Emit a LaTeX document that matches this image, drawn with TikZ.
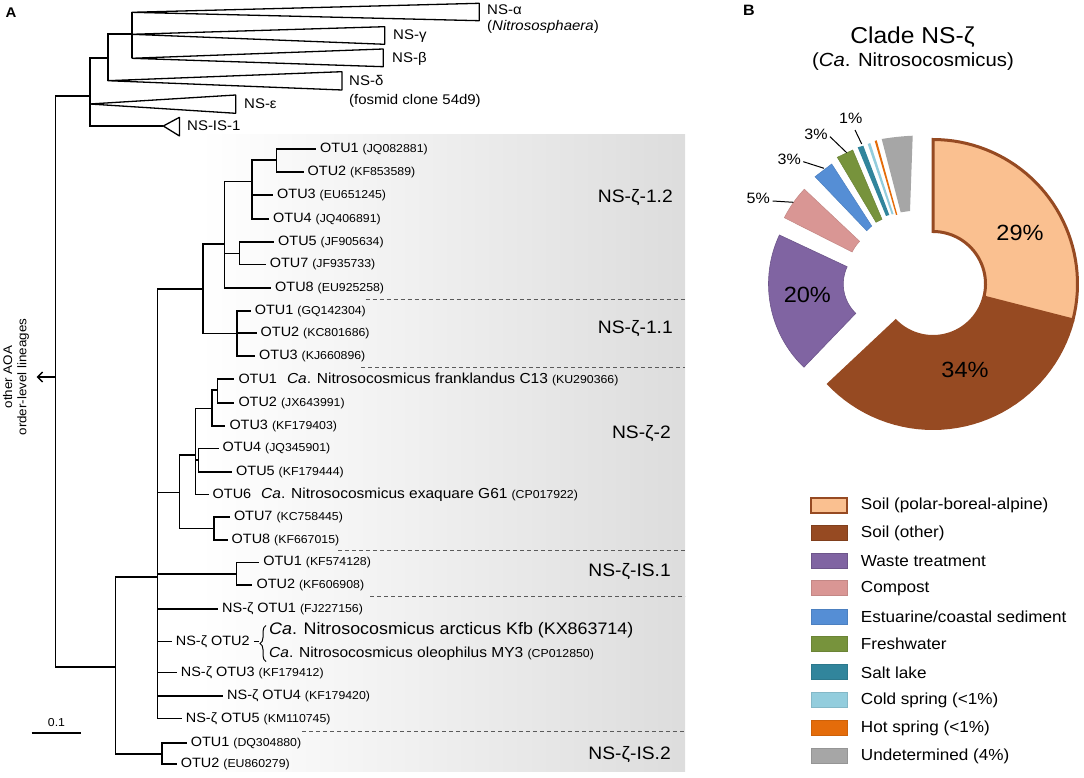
\documentclass[tikz,border=0pt]{standalone}
\usepackage{fontspec}
\setmainfont{Liberation Sans}[FakeStretch=1.07]
\usetikzlibrary{arrows.meta,decorations.pathreplacing}
\newcommand{\fsz}[1]{\fontsize{#1}{#1}\selectfont}
\newcommand{\acc}[1]{{\fsz{11.5}(#1)}}
\newcommand{\spc}[1]{{\fsz{14.5}#1}}
\newcommand{\ringslice}[7]{\path[#7] plot[domain=#5:#6,samples=40] ({#1+#4*cos(\x)},{#2-#4*sin(\x)}) -- plot[domain=#6:#5,samples=40] ({#1+#3*cos(\x)},{#2-#3*sin(\x)}) -- cycle;}
\definecolor{peach}{RGB}{250,192,144}
\definecolor{soilbr}{RGB}{150,74,34}
\definecolor{purp}{RGB}{128,100,162}
\definecolor{pinkc}{RGB}{217,150,148}
\definecolor{bluec}{RGB}{85,142,213}
\definecolor{greenc}{RGB}{119,147,60}
\definecolor{tealc}{RGB}{49,133,156}
\definecolor{ltblue}{RGB}{147,205,221}
\definecolor{orangec}{RGB}{228,108,10}
\definecolor{grayc}{RGB}{166,166,166}
\definecolor{dashc}{RGB}{90,90,90}
\begin{document}
\begin{tikzpicture}[x=1pt,y=-1pt,
  br/.style={line width=1.6pt},
  wedge/.style={line width=1.3pt, line join=bevel},
  lbl/.style={anchor=west, inner sep=0pt, xshift=4pt, font=\fsz{13.5}},
  tl/.style={anchor=west, inner sep=0pt, font=\fsz{14}},
  cl/.style={anchor=east, inner sep=0pt, font=\fsz{18}},
  sep/.style={dashc, line width=1pt, dash pattern=on 4pt off 3pt},
  pct/.style={inner sep=0pt, font=\fsz{22}},
  spct/.style={inner sep=0pt, font=\fsz{15}},
  lead/.style={line width=1pt},
  sw/.style={minimum width=36pt, minimum height=15pt, inner sep=0pt, line width=0.8pt},
  lg/.style={anchor=west, inner sep=0pt, font=\fsz{16}}]
\useasboundingbox (0,0) rectangle (1084,778);
% background panel
\shade[left color=white, right color=gray!27] (200,135) rectangle (685,771);
% panel labels
\node[font=\bfseries\fsz{14}, inner sep=0pt] (A) at (11,13) {A};
\node[font=\bfseries\fsz{15}, inner sep=0pt] (B) at (749,10.5) {B};
% ---------- top of tree ----------
\coordinate (root) at (55.6,377);
\coordinate (n1) at (89.7,96);
\coordinate (n2) at (107.7,58.3);
\coordinate (n3) at (131.7,34.3);
\coordinate (P) at (115.5,667);
\draw[br] (root) |- (n1);
\draw[br] (root) |- (P);
\draw[br] (n1) |- (n2);
\draw[br] (n2) |- (n3);
\coordinate (wa) at (131.7,12.3);
\coordinate (wg) at (131.7,34.3);
\coordinate (wb) at (131.7,58.3);
\coordinate (wd) at (107.7,80.7);
\coordinate (we) at (89.7,104);
\coordinate (wi) at (163.3,126);
\draw[br] (n3) |- (wa);
\draw[br] (n3) |- (wb);
\draw[br] (n2) |- (wd);
\draw[br] (n1) |- (we);
\draw[br] (n1) |- (wi);
\draw[wedge] (wa) -- (479.2,3.3) -- (479.2,20.7) -- cycle;
\draw[wedge] (wg) -- (384.8,26.7) -- (384.8,44.3) -- cycle;
\draw[wedge] (wb) -- (383.3,49) -- (383.3,66.7) -- cycle;
\draw[wedge] (wd) -- (342,71.7) -- (342,90) -- cycle;
\draw[wedge] (we) -- (235.8,95) -- (235.8,113.3) -- cycle;
\draw[wedge] (wi) -- (179.5,117.3) -- (179.5,136) -- cycle;
\node[tl] (la) at (487,10) {NS-α};
\node[tl] (la2) at (487,26.5) {(\textit{Nitrososphaera})};
\node[tl] (lgm) at (393,36) {NS-γ};
\node[tl] (lbt) at (392,59) {NS-β};
\node[tl] (ldl) at (349,80.5) {NS-δ};
\node[tl] (ldl2) at (349,100.5) {(fosmid clone 54d9)};
\node[tl] (lep) at (244,104) {NS-ε};
\node[tl] (lis) at (187,126) {NS-IS-1};
% arrow to other lineages
\coordinate (arr) at (36.7,377);
\draw[line width=1.3pt, -{Straight Barb[length=5pt,width=10pt]}] (root) -- (arr);
\node[rotate=90, align=center, inner sep=0pt, font=\fontsize{12.5}{14.3}\selectfont] (aoa) at (16,377) {other AOA\\order-level lineages};
% scale bar
\coordinate (sb1) at (31.7,732.7);
\coordinate (sb2) at (81,732.7);
\draw[line width=1.6pt] (sb1) -- (sb2);
\node[inner sep=0pt, font=\fsz{11.5}] (sbl) at (56.5,722.5) {0.1};
% ---------- NS-zeta clade ----------
\coordinate (N) at (157.5,577);
\coordinate (Q) at (161.7,754);
\draw[br] (P) |- (N);
\draw[br] (P) |- (Q);
\coordinate (c1) at (203,289);
\coordinate (c2) at (179.6,492.3);
\coordinate (is1) at (236.5,574);
\draw[br] (N) |- (c1);
\draw[br] (N) |- (c2);
\draw[br] (N) |- (is1);
% 1.x
\coordinate (c12) at (224.5,244);
\coordinate (c11) at (237,333.3);
\draw[br] (c1) |- (c12);
\draw[br] (c1) |- (c11);
\coordinate (a) at (252,181.7);
\coordinate (b) at (239.4,253.3);
\coordinate (o8) at (271,287.7);
\draw[br] (c12) |- (a);
\draw[br] (c12) |- (b);
\draw[br] (c12) |- (o8);
\coordinate (aa) at (276.4,160);
\coordinate (o3) at (273,195);
\coordinate (o4) at (269,219);
\draw[br] (a) |- (aa);
\draw[br] (a) |- (o3);
\draw[br] (a) |- (o4);
\coordinate (o1) at (316,149.3);
\coordinate (o2) at (303.5,172.3);
\draw[br] (aa) |- (o1);
\draw[br] (aa) |- (o2);
\coordinate (o5) at (274,241.7);
\coordinate (o7) at (265.6,264.3);
\draw[br] (b) |- (o5);
\draw[br] (b) |- (o7);
\coordinate (p1) at (250.7,311);
\coordinate (p2) at (256.5,332.7);
\coordinate (p3) at (255,356);
\draw[br] (c11) |- (p1);
\draw[br] (c11) |- (p2);
\draw[br] (c11) |- (p3);
\node[lbl] (to1) at (o1) {OTU1 \acc{JQ082881}};
\node[lbl] (to2) at (o2) {OTU2 \acc{KF853589}};
\node[lbl] (to3) at (o3) {OTU3 \acc{EU651245}};
\node[lbl] (to4) at (o4) {OTU4 \acc{JQ406891}};
\node[lbl] (to5) at (o5) {OTU5 \acc{JF905634}};
\node[lbl] (to7) at (o7) {OTU7 \acc{JF935733}};
\node[lbl] (to8) at (o8) {OTU8 \acc{EU925258}};
\node[lbl] (tp1) at (p1) {OTU1 \acc{GQ142304}};
\node[lbl] (tp2) at (p2) {OTU2 \acc{KC801686}};
\node[lbl] (tp3) at (p3) {OTU3 \acc{KJ660896}};
% 2
\coordinate (d) at (195.5,455);
\coordinate (e) at (214,528.3);
\draw[br] (c2) |- (d);
\draw[br] (c2) |- (e);
\coordinate (f) at (211.7,408.3);
\coordinate (g) at (198.3,460);
\coordinate (q6) at (208.5,494.3);
\draw[br] (d) |- (f);
\draw[br] (d) |- (g);
\draw[br] (d) |- (q6);
\coordinate (h) at (217.6,390);
\coordinate (q3) at (225.3,425.7);
\draw[br] (f) |- (h);
\draw[br] (f) |- (q3);
\coordinate (q1) at (234.3,379);
\coordinate (q2) at (234.3,402.7);
\draw[br] (h) |- (q1);
\draw[br] (h) |- (q2);
\coordinate (q4) at (218.5,448.3);
\coordinate (q5) at (232,471.7);
\draw[br] (g) |- (q4);
\draw[br] (g) |- (q5);
\coordinate (q7) at (229.8,516.7);
\coordinate (q8) at (227.5,540);
\draw[br] (e) |- (q7);
\draw[br] (e) |- (q8);
\node[lbl] (tq1) at (q1) {OTU1\hspace{6pt} \spc{\textit{Ca}. Nitrosocosmicus franklandus C13} \acc{KU290366}};
\node[lbl] (tq2) at (q2) {OTU2 \acc{JX643991}};
\node[lbl] (tq3) at (q3) {OTU3 \acc{KF179403}};
\node[lbl] (tq4) at (q4) {OTU4 \acc{JQ345901}};
\node[lbl] (tq5) at (q5) {OTU5 \acc{KF179444}};
\node[lbl] (tq6) at (q6) {OTU6\hspace{6pt} \spc{\textit{Ca}. Nitrosocosmicus exaquare G61} \acc{CP017922}};
\node[lbl] (tq7) at (q7) {OTU7 \acc{KC758445}};
\node[lbl] (tq8) at (q8) {OTU8 \acc{KF667015}};
% IS.1
\coordinate (s1) at (259.2,562.3);
\coordinate (s2) at (252.4,585);
\draw[br] (is1) |- (s1);
\draw[br] (is1) |- (s2);
\node[lbl] (ts1) at (s1) {OTU1 \acc{KF574128}};
\node[lbl] (ts2) at (s2) {OTU2 \acc{KF606908}};
% NS-zeta OTUs
\coordinate (z1) at (218,609);
\coordinate (z2) at (171.7,641.5);
\coordinate (z3) at (176.7,672.5);
\coordinate (z4) at (223,696);
\coordinate (z5) at (181.7,718.5);
\draw[br] (N) |- (z1);
\draw[br] (N) |- (z2);
\draw[br] (N) |- (z3);
\draw[br] (N) |- (z4);
\draw[br] (N) |- (z5);
\node[lbl] (tz1) at (z1) {NS-ζ OTU1 \acc{FJ227156}};
\node[lbl] (tz2) at (z2) {NS-ζ OTU2};
\node[lbl] (tz3) at (z3) {NS-ζ OTU3 \acc{KF179412}};
\node[lbl] (tz4) at (z4) {NS-ζ OTU4 \acc{KF179420}};
\node[lbl] (tz5) at (z5) {NS-ζ OTU5 \acc{KM110745}};
\coordinate (bt) at (259,641.5);
\draw[line width=1pt] ([xshift=4pt]tz2.east) -- (bt);
\draw[line width=1pt, decorate, decoration={brace, amplitude=6pt}] (266,661.5) -- (266,625.5);
\node[anchor=west, inner sep=0pt, font=\fsz{16.7}] (arct) at (269,630) {\textit{Ca}. Nitrosocosmicus arcticus Kfb (KX863714)};
\node[anchor=west, inner sep=0pt, font=\fsz{14.5}] (oleo) at (269,654) {\textit{Ca}. Nitrosocosmicus oleophilus MY3 \acc{CP012850}};
% IS.2
\coordinate (t1) at (186.7,742.7);
\coordinate (t2) at (176.7,764);
\draw[br] (Q) |- (t1);
\draw[br] (Q) |- (t2);
\node[lbl] (tt1) at (t1) {OTU1 \acc{DQ304880}};
\node[lbl] (tt2) at (t2) {OTU2 \acc{EU860279}};
% separators
\draw[sep] (365.5,299.3) -- (685,299.3);
\draw[sep] (361,367) -- (685,367);
\draw[sep] (338.3,550) -- (685,550);
\draw[sep] (370,596) -- (685,596);
\draw[sep] (302,731.7) -- (685,731.7);
% clade labels
\node[cl] (k12) at (673,197.7) {NS-ζ-1.2};
\node[cl] (k11) at (673,328.3) {NS-ζ-1.1};
\node[cl] (k2) at (671,434) {NS-ζ-2};
\node[cl] (ki1) at (671,571.7) {NS-ζ-IS.1};
\node[cl] (ki2) at (671,755) {NS-ζ-IS.2};
% ---------- pie ----------
\node[inner sep=0pt, font=\fsz{23}] (pt1) at (912.5,37) {Clade NS-ζ};
\node[inner sep=0pt, font=\fsz{19}] (pt2) at (913,62) {(\textit{Ca}. Nitrosocosmicus)};
\ringslice{933}{284}{51}{146}{-136.8}{-14.4}{fill=soilbr}
\ringslice{933}{284}{52.5}{144.5}{-14.4}{90}{fill=peach, draw=soilbr, line width=3pt, line join=miter}
\ringslice{884}{284}{40.7}{115.5}{154.9}{226.1}{fill=purp, draw=purp!85!black, line width=0.6pt}
\ringslice{892.6}{272.4}{45.3}{121.3}{136.7}{153.2}{fill=pinkc, draw=pinkc!90!black, line width=0.5pt}
\fill[bluec, draw=bluec!90!black, line width=0.5pt] (815,176.7) -- (831.7,164) -- (871.7,226) -- (866.7,230.7) -- cycle;
\fill[greenc, draw=greenc!90!black, line width=0.5pt] (837.3,157.3) -- (852.7,150) -- (882,219.3) -- (876,222.3) -- cycle;
\fill[tealc] (857.7,147.3) -- (863.3,145.7) -- (889.3,215) -- (886,216) -- cycle;
\fill[ltblue] (867.7,144) -- (870.3,143) -- (893.5,214) -- (891.7,214.5) -- cycle;
\fill[orangec] (874.7,141) -- (876.7,140.3) -- (897.3,214.7) -- (896,215) -- cycle;
\fill[grayc] (881.7,139) .. controls (892,137.3) and (902,136.2) .. (912.7,135.7) -- (910,211) -- (900.7,212.3) -- cycle;
\node[pct] (p29) at (1020,233.3) {29\%};
\node[pct] (p34) at (965,370) {34\%};
\node[pct] (p20) at (807.3,295) {20\%};
\node[spct] (p5) at (758.3,198.3) {5\%};
\node[spct] (p3a) at (789.3,159.3) {3\%};
\node[spct] (p3b) at (816,134.3) {3\%};
\node[spct] (p1) at (850.7,118.3) {1\%};
\coordinate (e5) at (793.3,202.3);
\coordinate (e3a) at (824,168.3);
\coordinate (e3b) at (846.7,152.7);
\coordinate (e1) at (861.7,144);
\draw[lead] (772.7,201) -- (e5);
\draw[lead] (803.3,161.7) -- (e3a);
\draw[lead] (830,136.7) -- (e3b);
\draw[lead] (855,130) -- (e1);
% ---------- legend ----------
\node[sw, fill=peach, draw=soilbr, line width=2pt] (s01) at (829.2,505) {};
\node[sw, fill=soilbr, draw=soilbr!85!black] (s02) at (829.2,533.3) {};
\node[sw, fill=purp, draw=purp!85!black] (s03) at (829.2,560.7) {};
\node[sw, fill=pinkc, draw=pinkc!90!black] (s04) at (829.2,588.3) {};
\node[sw, fill=bluec, draw=bluec!90!black] (s05) at (829.2,616.7) {};
\node[sw, fill=greenc, draw=greenc!90!black] (s06) at (829.2,644) {};
\node[sw, fill=tealc, draw=tealc!90!black] (s07) at (829.2,672.3) {};
\node[sw, fill=ltblue, draw=ltblue!90!black] (s08) at (829.2,700) {};
\node[sw, fill=orangec, draw=orangec!90!black] (s09) at (829.2,728.3) {};
\node[sw, fill=grayc, draw=grayc!90!black] (s10) at (829.2,756) {};
\node[lg] (g01) at (860.7,505) {Soil (polar-boreal-alpine)};
\node[lg] (g02) at (860.7,533.3) {Soil (other)};
\node[lg] (g03) at (860.7,560.7) {Waste treatment};
\node[lg] (g04) at (860.7,588.3) {Compost};
\node[lg] (g05) at (860.7,616.7) {Estuarine/coastal sediment};
\node[lg] (g06) at (860.7,644) {Freshwater};
\node[lg] (g07) at (860.7,672.3) {Salt lake};
\node[lg] (g08) at (860.7,700) {Cold spring (<1\%)};
\node[lg] (g09) at (860.7,728.3) {Hot spring (<1\%)};
\node[lg] (g10) at (860.7,756) {Undetermined (4\%)};
\end{tikzpicture}
\end{document}
